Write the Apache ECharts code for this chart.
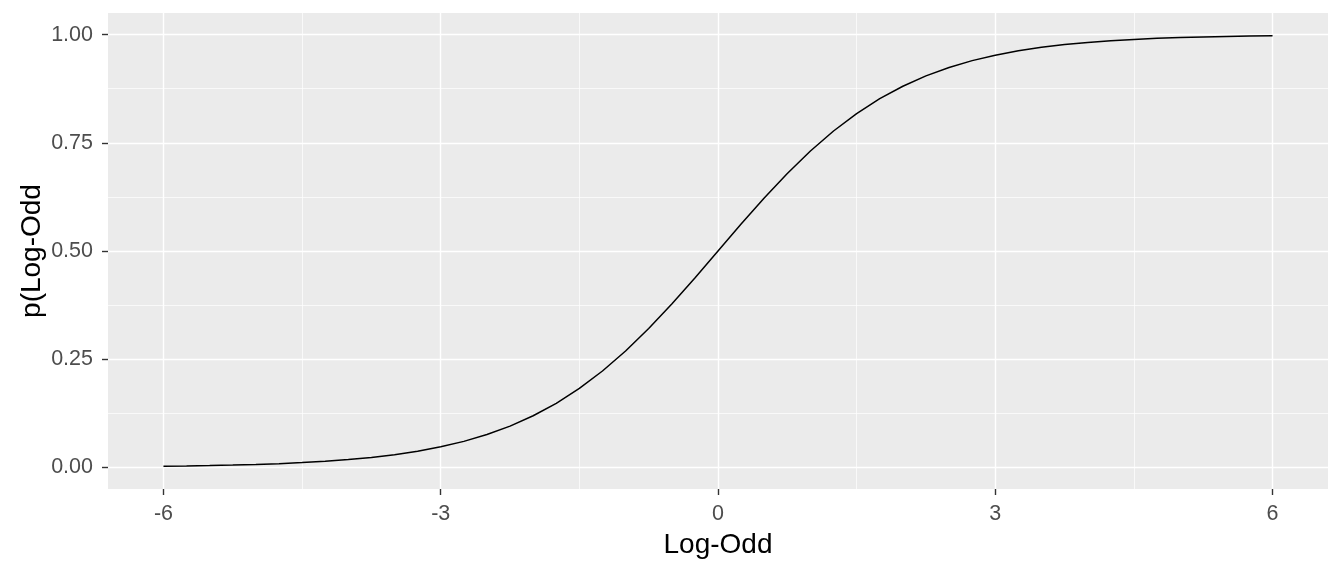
<!DOCTYPE html>
<html>
<head>
<meta charset="utf-8">
<script src="https://cdn.jsdelivr.net/npm/echarts@6/dist/echarts.min.js"></script>
<style>html,body{margin:0;padding:0;background:#fff;}#c{width:1344px;height:576px;}</style>
</head>
<body>
<div id="c"></div>
<script>
const logOdds = [-6,-5.75,-5.5,-5.25,-5,-4.75,-4.5,-4.25,-4,-3.75,-3.5,-3.25,-3,-2.75,-2.5,-2.25,-2,-1.75,-1.5,-1.25,-1,-0.75,-0.5,-0.25,0,0.25,0.5,0.75,1,1.25,1.5,1.75,2,2.25,2.5,2.75,3,3.25,3.5,3.75,4,4.25,4.5,4.75,5,5.25,5.5,5.75,6];
const probs = [0.00247,0.00317,0.00407,0.00522,0.00669,0.00858,0.01099,0.01406,0.01799,0.02298,0.02931,0.03732,0.04743,0.06009,0.07586,0.09535,0.11920,0.14805,0.18243,0.22270,0.26894,0.32082,0.37754,0.43782,0.5,0.56218,0.62246,0.67918,0.73106,0.77730,0.81757,0.85195,0.88080,0.90465,0.92414,0.93991,0.95257,0.96268,0.97069,0.97702,0.98201,0.98594,0.98901,0.99142,0.99331,0.99478,0.99593,0.99683,0.99753];
const xTicks = [-6,-3,0,3,6];
const xMinor = [-4.5,-1.5,1.5,4.5];
const yTicks = [0,0.25,0.5,0.75,1];
const yMinor = [0.125,0.375,0.625,0.875];
const xTitle = 'Log-Odd';
const yTitle = 'p(Log-Odd';

const FONT = 'Liberation Sans, Arial, sans-serif';
const chart = echarts.init(document.getElementById('c'), null, {renderer:'canvas'});
const xr = {min:-6.6, max:6.6};
const yr = {min:-0.05, max:1.05};
const gridBox = {left:108, right:16, top:13, bottom:87};
chart.setOption({
  animation:false,
  backgroundColor:'#ffffff',
  grid:[
    Object.assign({show:true, backgroundColor:'#EBEBEB', borderWidth:0, containLabel:false}, gridBox)
  ],
  xAxis:[
    {type:'value', gridIndex:0, min:xr.min, max:xr.max, z:1,
     axisLine:{show:false, onZero:false},
     axisTick:{show:false, customValues:xMinor},
     axisLabel:{show:false, customValues:xMinor},
     splitLine:{show:true, lineStyle:{color:'#ffffff', width:0.7}}},
    {type:'value', gridIndex:0, min:xr.min, max:xr.max, position:'bottom', z:2,
     name:xTitle, nameLocation:'middle', nameGap:42, nameMoveOverlap:false,
     nameTextStyle:{fontFamily:FONT, fontSize:28, color:'#000000'},
     axisLine:{show:false, onZero:false},
     axisTick:{show:true, length:6, customValues:xTicks, lineStyle:{color:'#333333', width:1.4}},
     axisLabel:{show:true, customValues:xTicks, margin:14, fontFamily:FONT, fontSize:21.5, color:'#4D4D4D'},
     splitLine:{show:true, lineStyle:{color:'#ffffff', width:1.4}}}
  ],
  yAxis:[
    {type:'value', gridIndex:0, min:yr.min, max:yr.max, z:1,
     axisLine:{show:false, onZero:false},
     axisTick:{show:false, customValues:yMinor},
     axisLabel:{show:false, customValues:yMinor},
     splitLine:{show:true, lineStyle:{color:'#ffffff', width:0.7}}},
    {type:'value', gridIndex:0, min:yr.min, max:yr.max, position:'left', z:2,
     name:yTitle, nameLocation:'middle', nameGap:62, nameRotate:90, nameMoveOverlap:false,
     nameTextStyle:{fontFamily:FONT, fontSize:28, color:'#000000'},
     axisLine:{show:false, onZero:false},
     axisTick:{show:true, length:6, customValues:yTicks, lineStyle:{color:'#333333', width:1.4}},
     axisLabel:{show:true, customValues:yTicks, margin:15, fontFamily:FONT, fontSize:21.5, color:'#4D4D4D',
       formatter:(v)=>v.toFixed(2)},
     splitLine:{show:true, lineStyle:{color:'#ffffff', width:1.4}}}
  ],
  series:[{
    type:'line', xAxisIndex:1, yAxisIndex:1, z:5,
    data: logOdds.map((x,i)=>[x, probs[i]]),
    showSymbol:false, symbol:'none', smooth:false,
    lineStyle:{color:'#000000', width:1.5}
  }]
});
</script>
</body>
</html>
